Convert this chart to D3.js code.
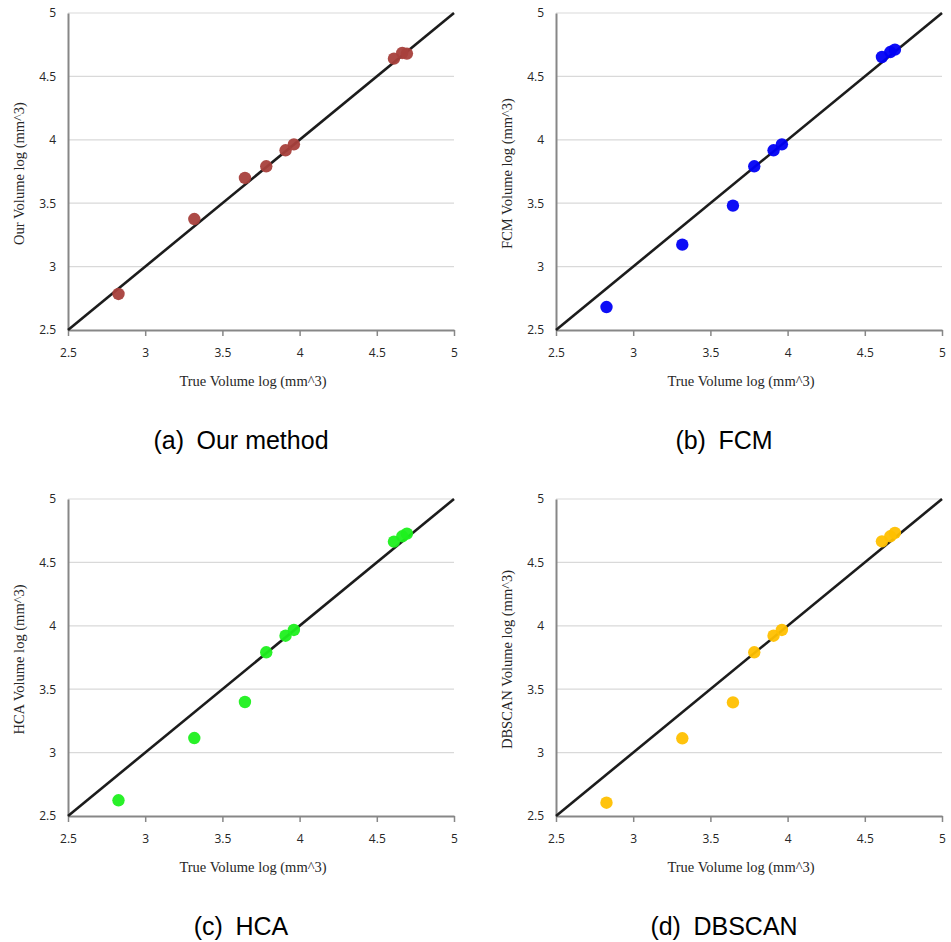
<!DOCTYPE html>
<html>
<head>
<meta charset="utf-8">
<script src="https://cdn.jsdelivr.net/npm/d3@7"></script>
<style>
  body { margin: 0; background: #fff; }
  svg { display: block; }
</style>
</head>
<body>
<div id="chart"></div>
<script>
// true volume (log) for the 9 cases, shared by all panels
const trueVolume = [2.827, 3.318, 3.646, 3.784, 3.909, 3.963, 4.611, 4.665, 4.695];

// predicted volume (log) per method
const ourVolume    = [2.784, 3.375, 3.699, 3.791, 3.917, 3.964, 4.640, 4.685, 4.680];
const fcmVolume    = [2.681, 3.173, 3.481, 3.791, 3.917, 3.964, 4.653, 4.692, 4.711];
const hcaVolume    = [2.624, 3.115, 3.399, 3.791, 3.922, 3.967, 4.664, 4.706, 4.727];
const dbscanVolume = [2.605, 3.113, 3.396, 3.791, 3.922, 3.967, 4.666, 4.706, 4.732];

const axisTicks = [2.5, 3, 3.5, 4, 4.5, 5];
const axisDomain = [2.5, 5];

const panels = [
    { caption: "(a)\u2002Our method", yTitle: "Our Volume log (mm^3)", values: ourVolume, color: "#a8403c", col: 0, row: 0 },
    { caption: "(b)\u2002FCM", yTitle: "FCM Volume log (mm^3)", values: fcmVolume, color: "#0000f5", col: 1, row: 0 },
    { caption: "(c)\u2002HCA", yTitle: "HCA Volume  log (mm^3)", values: hcaVolume, color: "#1ef01e", col: 0, row: 1 },
    { caption: "(d)\u2002DBSCAN", yTitle: "DBSCAN Volume log (mm^3)", values: dbscanVolume, color: "#ffc000", col: 1, row: 1 }
];

const W = 951, H = 942;
const plotW = 386, plotH = 317;

const svg = d3.select("#chart").append("svg")
    .attr("width", W)
    .attr("height", H);

panels.forEach(function (p) {
    let left = p.col === 0 ? 68 : 556;
    let top = p.row === 0 ? 13 : 499;

    let g = svg.append("g")
        .attr("transform", `translate(${left}, ${top})`);

    let x = d3.scaleLinear().domain(axisDomain).range([0, plotW]);
    let y = d3.scaleLinear().domain(axisDomain).range([plotH, 0]);

    // horizontal gridlines
    g.append("g")
        .selectAll("line")
        .data(axisTicks.filter(d => d > 2.5))
        .enter()
        .append("line")
        .attr("x1", 0)
        .attr("x2", plotW)
        .attr("y1", d => y(d))
        .attr("y2", d => y(d))
        .attr("stroke", "#d9d9d9")
        .attr("stroke-width", 1.2);

    // x axis
    let xAxis = g.append("g")
        .attr("transform", `translate(0, ${plotH})`)
        .call(d3.axisBottom(x).tickValues(axisTicks).tickFormat(d3.format("")).tickSize(6).tickSizeOuter(0));
    xAxis.select(".domain").attr("stroke", "#878787").attr("stroke-width", 2);
    xAxis.selectAll(".tick line").attr("stroke", "#878787").attr("stroke-width", 1.5);
    xAxis.selectAll(".tick text")
        .attr("dy", "0")
        .attr("y", 27)
        .style("font-family", "'Open Sans', sans-serif")
        .style("font-size", "12px")
        .style("fill", "#262626");

    // y axis
    let yAxis = g.append("g")
        .call(d3.axisLeft(y).tickValues(axisTicks).tickFormat(d3.format("")).tickSize(0).tickSizeOuter(0));
    yAxis.select(".domain").attr("stroke", "#878787").attr("stroke-width", 2);
    yAxis.selectAll(".tick text")
        .attr("x", -12)
        .style("font-family", "'Open Sans', sans-serif")
        .style("font-size", "12px")
        .style("fill", "#262626");

    // identity line
    g.append("line")
        .attr("x1", x(2.5))
        .attr("y1", y(2.5))
        .attr("x2", x(5))
        .attr("y2", y(5))
        .attr("stroke", "#1c1c1c")
        .attr("stroke-width", 2.6);

    // points
    g.append("g")
        .selectAll("circle")
        .data(trueVolume.map((t, i) => ({ t: t, v: p.values[i] })))
        .enter()
        .append("circle")
        .attr("cx", d => x(d.t))
        .attr("cy", d => y(d.v))
        .attr("r", 6.2)
        .attr("fill", p.color)
        .attr("fill-opacity", 0.95);

    // axis titles
    g.append("text")
        .text("True Volume log (mm^3)")
        .attr("x", plotW / 2 - 8)
        .attr("y", plotH + 56)
        .attr("text-anchor", "middle")
        .style("font-family", "'Liberation Serif', serif")
        .style("font-size", "14.5px")
        .style("fill", "#262626");

    g.append("text")
        .text(p.yTitle)
        .attr("transform", `translate(-44, ${plotH / 2 + 2}) rotate(-90)`)
        .attr("text-anchor", "middle")
        .style("font-family", "'Liberation Serif', serif")
        .style("font-size", "14.5px")
        .style("fill", "#262626");

    // caption
    svg.append("text")
        .text(p.caption)
        .attr("x", left + plotW / 2 - (p.col === 0 ? 20 : 25))
        .attr("y", p.row === 0 ? 449 : 935)
        .attr("text-anchor", "middle")
        .style("font-family", "'Liberation Sans', Arial, sans-serif")
        .style("font-size", "25px")
        .style("fill", "#000");
});
</script>
</body>
</html>
